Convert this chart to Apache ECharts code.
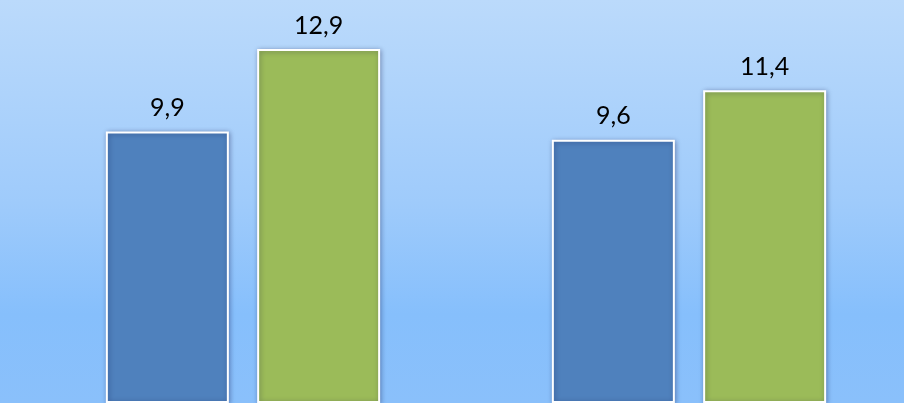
<!DOCTYPE html>
<html>
<head>
<meta charset="utf-8">
<script src="https://cdn.jsdelivr.net/npm/echarts@6/dist/echarts.min.js"></script>
<style>html,body{margin:0;padding:0;overflow:hidden;width:904px;height:403px;}#c{width:920px;height:403px;}</style>
</head>
<body>
<div id="c"></div>
<script>
const categories = ['A', 'B'];
const seriesBlue = [9.9, 9.6];
const seriesGreen = [12.9, 11.4];
const chart = echarts.init(document.getElementById('c'), null, {renderer: 'canvas'});
const fmt = p => String(p.value).replace('.', ',');
const labelStyle = {show: true, position: 'top', distance: 11, formatter: fmt,
  fontFamily: 'Lato', fontSize: 25, color: '#000'};
const itemBase = {borderColor: '#fff', borderWidth: 2, shadowBlur: 5, shadowColor: 'rgba(0,0,60,0.35)', shadowOffsetX: 1, shadowOffsetY: 1};
chart.setOption({
  backgroundColor: new echarts.graphic.LinearGradient(0, 0, 0, 1, [
    {offset: 0, color: '#bbdafb'},
    {offset: 0.5, color: '#9fcbfb'},
    {offset: 0.78, color: '#86bffc'},
    {offset: 1, color: '#8ac0fb'}
  ]),
  animation: false,
  grid: {left: 20, width: 892, top: 0, height: 406},
  xAxis: {type: 'category', data: categories, show: false},
  yAxis: {type: 'value', min: 0, max: 14.69, show: false, splitLine: {show: false}},
  series: [
    {type: 'bar', data: seriesBlue, barWidth: 123, barGap: '23%',
     itemStyle: Object.assign({color: '#4f81bd'}, itemBase), label: labelStyle},
    {type: 'bar', data: seriesGreen, barWidth: 123, barGap: '23%',
     itemStyle: Object.assign({color: '#9bbb59'}, itemBase), label: labelStyle}
  ]
});
</script>
</body>
</html>
